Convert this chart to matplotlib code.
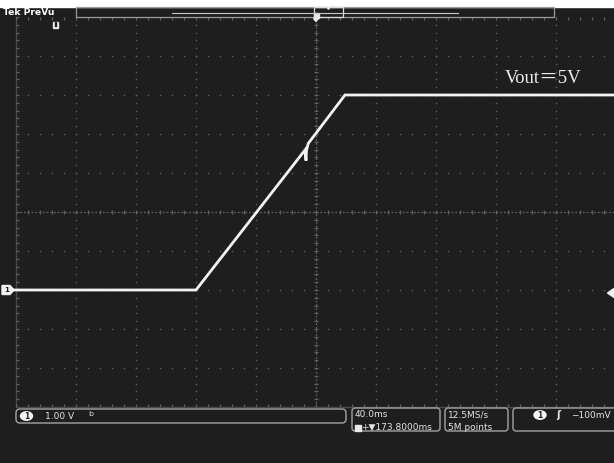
import matplotlib
matplotlib.use('Agg')
import matplotlib.pyplot as plt
from matplotlib.patches import Rectangle, FancyBboxPatch, Ellipse, Polygon
import numpy as np

# ---- data ----
time_ms = [-203, -80, -7.33, -6.67, -6.33, -5.13, 19.33, 200]   # ms relative to trigger
volts = [0.0, 0.0, 3.59, 3.32, 3.59, 3.76, 5.0, 5.0]               # V (1 V/div)
annotation = "Vout\uff1d5V"
ch_scale = "1.00 V"
time_scale = "40.0ms"
trig_pos = "+\u25bc173.8000ms"
sample_rate = "12.5MS/s"
record_len = "5M points"
trig_level = "\u2212100mV"

# screen layout (10 x 10 divisions)
t_per_div, v_per_div = 40, 1
t_min, t_max = -200, 200
v_min, v_max = -3, 7

W, H = 614, 463
BG = '#1e1e1e'
GRID = '#626262'
TXT = '#e4e4e4'

fig = plt.figure(figsize=(W / 100, H / 100), dpi=100)
fig.patch.set_facecolor(BG)

# main scope graticule axes (x 16..616 px, y 17..407 px)
ax = fig.add_axes([16 / W, (H - 407) / H, 600 / W, 390 / H])
ax.set_facecolor(BG)
ax.set_xlim(t_min, t_max)
ax.set_ylim(v_min, v_max)
ax.set_xticks([])
ax.set_yticks([])
for s in ax.spines.values():
    s.set_visible(False)

px_t = (t_max - t_min) / 600.0   # ms per pixel
px_v = (v_max - v_min) / 390.0   # V per pixel

xdiv = np.arange(t_min, t_max + 1, t_per_div)
ydiv = np.arange(v_min, v_max + 0.5, v_per_div)
xsub = np.arange(t_min, t_max + 0.1, t_per_div / 5)
ysub = np.arange(v_min, v_max + 0.01, v_per_div / 5)

# dotted grid
gx, gy = [], []
for x in xdiv:
    if x in (t_min, 0):
        continue
    gx += [x] * len(ysub)
    gy += list(ysub)
for y in ydiv:
    if y in (v_min, v_max, 2):
        continue
    gx += list(xsub)
    gy += [y] * len(xsub)
ax.plot(gx, gy, ls='none', marker='s', ms=1.0, mew=0, color=GRID, zorder=1)

# centre cross with minor ticks
ax.axvline(0, color=GRID, lw=0.9, ls=(0, (1.5, 1.5)), zorder=1)
ax.axhline(2, color=GRID, lw=0.9, ls=(0, (1.5, 1.5)), zorder=1)
ax.hlines(ysub, -2.2 * px_t, 2.2 * px_t, color=GRID, lw=0.9, zorder=1)
ax.vlines(xsub, 2 - 2.2 * px_v, 2 + 2.2 * px_v, color=GRID, lw=0.9, zorder=1)

# edges with ticks
ax.axvline(t_min, color='#4a4a4a', lw=1.0, zorder=1, clip_on=False)
ax.axhline(v_min, color='#4a4a4a', lw=1.0, zorder=1, clip_on=False)
ax.hlines(ysub, t_min, t_min + 3 * px_t, color=GRID, lw=0.9, zorder=1)
ax.vlines(xsub, v_min, v_min + 3 * px_v, color=GRID, lw=0.9, zorder=1)
ax.vlines(xsub, v_max - 3 * px_v, v_max, color=GRID, lw=0.9, zorder=1)

# trace
ax.plot(time_ms, volts, color='#f3f3f3', lw=2.0, solid_joinstyle='miter',
        zorder=3, clip_on=False)

# ---- overlay in pixel coordinates ----
ov = fig.add_axes([0, 0, 1, 1], zorder=5)
ov.set_xlim(0, W)
ov.set_ylim(H, 0)
ov.axis('off')
ov.patch.set_alpha(0)

# top white margin
ov.add_patch(Rectangle((0, 0), W, 6.5, color='white', zorder=1))

# top status bar
ov.text(3, 12.3, "Tek PreVu", color='white', fontsize=6.6, fontweight='bold',
        va='center', ha='left', family='DejaVu Sans')
ov.add_patch(Rectangle((76, 7), 478, 10, fill=False, ec='#9c9c9c', lw=0.9))
ov.plot([172, 458], [12.5, 12.5], color='#c8c8c8', lw=0.8)
ov.add_patch(Rectangle((314, 7), 29, 10, fill=False, ec='#dcdcdc', lw=0.9))
ov.plot([328], [8.3], marker='o', ms=1.8, color='white', mew=0)
ov.add_patch(Rectangle((313.5, 12.5), 5, 5.5, color='#e8e8e8'))
ov.add_patch(Polygon([(313.5, 18.5), (318.5, 18.5), (316, 21.5)], color='#e8e8e8'))
ov.add_patch(Rectangle((53, 21.5), 5, 6, color='#e8e8e8'))
ov.add_patch(Rectangle((54.6, 21.5), 1.8, 4.2, color=BG))

# annotation
ov.text(505, 83, annotation, color='#ececec', fontsize=13.5, va='baseline', ha='left',
        family=['Liberation Serif', 'Noto Sans CJK SC'])

# channel level marker (left) and trigger level marker (right)
ov.add_patch(Polygon([(2, 285.5), (10, 285.5), (14, 290), (10, 294.5), (2, 294.5)],
                     color='#f0f0f0'))
ov.text(7, 290.3, "1", color=BG, fontsize=5, fontweight='bold', va='center', ha='center')
ov.add_patch(Polygon([(607.5, 293), (614, 288.5), (614, 297.5)], color='#f0f0f0'))

# bottom readouts
box_kw = dict(fill=False, ec='#a4a4a4', lw=1.0)
ov.add_patch(FancyBboxPatch((16, 409), 330, 14,
                            boxstyle='round,pad=0,rounding_size=4', **box_kw))
ov.add_patch(Ellipse((26.5, 416), 12, 8.5, color='#f4f4f4'))
ov.text(26.5, 416.3, "1", color=BG, fontsize=5.5, fontweight='bold', va='center', ha='center')
ov.text(45, 416.2, ch_scale, color=TXT, fontsize=6.5, va='center', ha='left')
ov.text(88, 416.2, "\u1d47", color=TXT, fontsize=9, va='center', ha='left')

ov.add_patch(FancyBboxPatch((352, 408), 88, 23,
                            boxstyle='round,pad=0,rounding_size=3', **box_kw))
ov.text(355, 414.5, time_scale, color=TXT, fontsize=6.5, va='center', ha='left')
ov.add_patch(Rectangle((355, 424.5), 5.5, 6, color='#e8e8e8'))
ov.text(361, 427.5, trig_pos, color=TXT, fontsize=6.5, va='center', ha='left')

ov.add_patch(FancyBboxPatch((445, 408), 63, 23,
                            boxstyle='round,pad=0,rounding_size=3', **box_kw))
ov.text(448, 414.5, sample_rate, color=TXT, fontsize=6.5, va='center', ha='left')
ov.text(448, 427.5, record_len, color=TXT, fontsize=6.5, va='center', ha='left')

ov.add_patch(FancyBboxPatch((513, 408), 110, 23,
                            boxstyle='round,pad=0,rounding_size=3', **box_kw))
ov.add_patch(Ellipse((540, 415), 12, 8.5, color='#f4f4f4'))
ov.text(540, 415.3, "1", color=BG, fontsize=5.5, fontweight='bold', va='center', ha='center')
ov.text(556, 415.2, "\u0283", color=TXT, fontsize=7, va='center', ha='left',
        fontweight='bold')
ov.text(571, 415.2, trig_level, color=TXT, fontsize=6.5, va='center', ha='left')

fig.savefig('out.png', dpi=100, facecolor=BG)
